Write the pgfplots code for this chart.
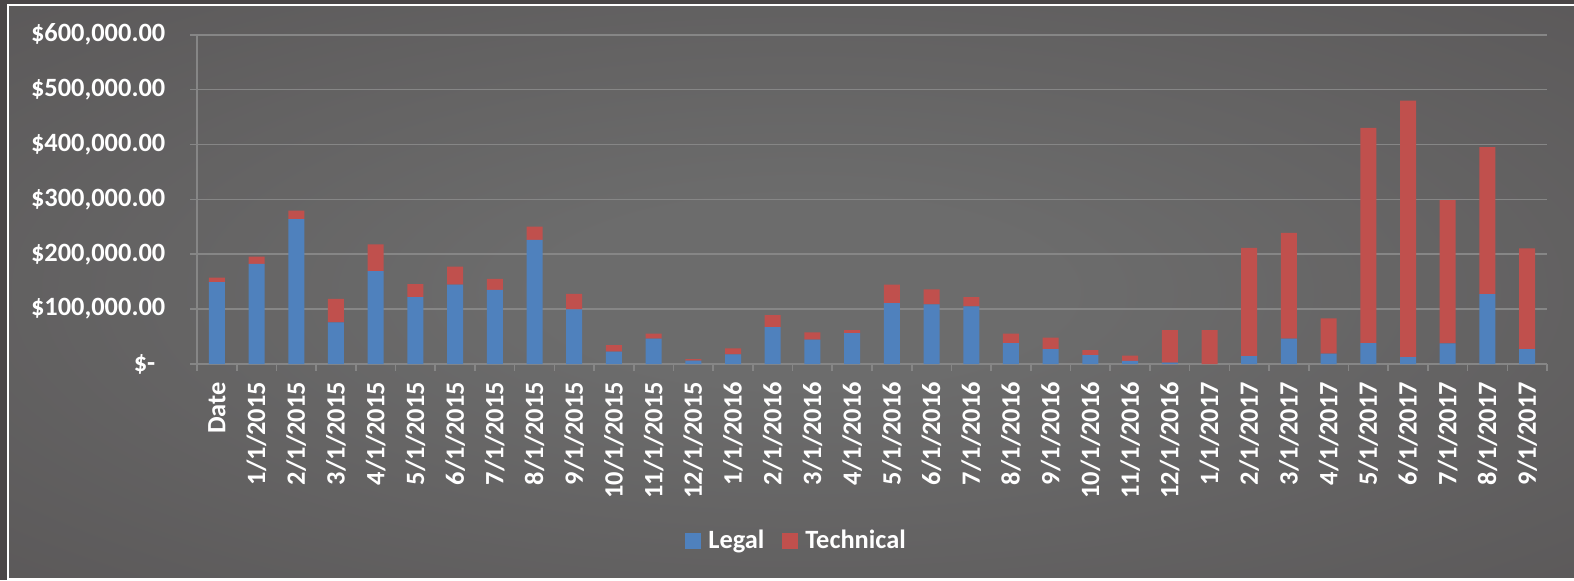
\documentclass[border=0pt]{standalone}
\usepackage{pgfplots}
\pgfplotsset{compat=1.18}
\usepackage{pgfplotstable}
\usepackage{fontspec}
\setmainfont{Carlito}
\definecolor{bgin}{RGB}{108,108,108}
\definecolor{bgout}{RGB}{80,76,77}
\definecolor{bgedge}{RGB}{74,70,71}
\definecolor{gridc}{RGB}{134,134,134}
\definecolor{legalc}{RGB}{79,129,189}
\definecolor{techc}{RGB}{192,80,77}
\pgfdeclareradialshading{bgshade}{\pgfpoint{0bp}{0bp}}{color(0bp)=(bgin); color(8bp)=(bgin); color(55bp)=(bgout); color(75bp)=(bgout)}
\pgfplotstableread{
x legal tech
0 149000 8600
1 182400 13400
2 264200 15200
3 75800 43000
4 169100 49100
5 121800 23700
6 144800 32800
7 135200 20000
8 226100 24200
9 99400 28500
10 22400 12100
11 46100 9100
12 6000 3100
13 17600 10900
14 67300 21800
15 44200 13400
16 56400 5400
17 110900 33900
18 108500 27300
19 104800 17000
20 38200 17000
21 27300 20600
22 16400 9100
23 5500 9700
24 2400 59400
25 0 61800
26 14500 197000
27 46100 192700
28 18800 64200
29 38200 392100
30 12700 467300
31 37600 261200
32 127300 267900
33 27300 183600
}\data
\begin{document}
\begin{tikzpicture}
\useasboundingbox (-98.5pt,-108pt) rectangle (688.5pt,182pt);
\fill[bgedge] (-98.5pt,-108pt) rectangle (688.5pt,182pt);
\shade[shading=bgshade] (-94.6pt,-107.5pt) rectangle (700pt,179.65pt);
\draw[white, line width=1.2pt] (-94.6pt,-107.5pt) rectangle (700pt,179.65pt);
\begin{axis}[
  at={(0pt,0pt)}, anchor=south west,
  scale only axis, width=675pt, height=164.65pt,
  xmin=-0.5, xmax=33.5, ymin=0, ymax=600000,
  ybar stacked, bar width=8pt,
  axis x line*=bottom, axis y line*=left,
  axis line style={gridc, line width=0.8pt},
  ymajorgrids, grid style={gridc, line width=0.8pt},
  tick align=outside, major tick length=3.5pt, minor tick length=3.5pt,
  tick style={gridc, line width=0.8pt},
  major x tick style={draw=none},
  xtick={0,...,33},
  minor xtick={-0.5,0.5,...,33.5},
  xticklabels={Date,1/1/2015,2/1/2015,3/1/2015,4/1/2015,5/1/2015,6/1/2015,7/1/2015,8/1/2015,9/1/2015,10/1/2015,11/1/2015,12/1/2015,1/1/2016,2/1/2016,3/1/2016,4/1/2016,5/1/2016,6/1/2016,7/1/2016,8/1/2016,9/1/2016,10/1/2016,11/1/2016,12/1/2016,1/1/2017,2/1/2017,3/1/2017,4/1/2017,5/1/2017,6/1/2017,7/1/2017,8/1/2017,9/1/2017},
  ytick={0,100000,200000,300000,400000,500000,600000},
  yticklabels={{\$-\hspace*{5pt}},{\$100,000.00},{\$200,000.00},{\$300,000.00},{\$400,000.00},{\$500,000.00},{\$600,000.00}},
  scaled y ticks=false,
  ticklabel style={font=\bfseries\fontsize{13.2}{15}\selectfont, text=white},
  xticklabel style={rotate=90, anchor=east, inner sep=0pt},
  yticklabel style={anchor=east, inner sep=0pt},
  xticklabel shift=5.35pt,
  yticklabel shift=12.15pt,
  legend style={at={(axis description cs:0.446,-0.5375)}, anchor=center, draw=none, fill=none,
    text=white, font=\bfseries\fontsize{13.2}{15}\selectfont, inner sep=0pt,
    nodes={inner sep=3.5pt},
    /tikz/every even column/.append style={column sep=5.5pt}},
  legend columns=2,
  legend image code/.code={\fill[#1] (0pt,-4pt) rectangle (8pt,4pt);},
]
\addplot[fill=legalc, draw=none] table[x=x,y=legal]{\data};
\addplot[fill=techc, draw=none] table[x=x,y=tech]{\data};
\legend{Legal,Technical}
\end{axis}
\end{tikzpicture}
\end{document}
